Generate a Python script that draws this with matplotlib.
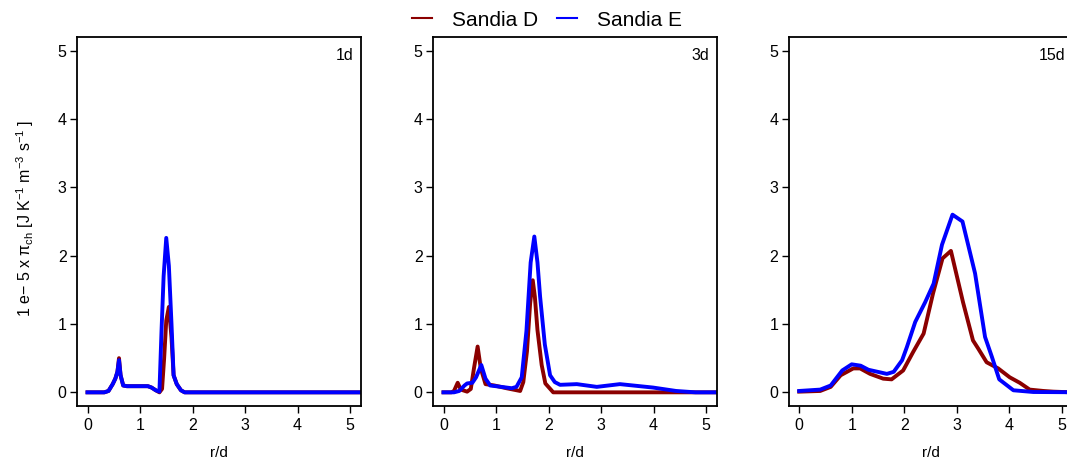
import matplotlib
matplotlib.use('Agg')
import matplotlib.pyplot as plt
from matplotlib.lines import Line2D

# Font setup: Helvetica-like look as in the R original
plt.rcParams['font.family'] = ['Liberation Sans', 'DejaVu Sans']
plt.rcParams['mathtext.fontset'] = 'custom'
plt.rcParams['mathtext.rm'] = 'Liberation Sans'
plt.rcParams['mathtext.it'] = 'Liberation Sans'
plt.rcParams['mathtext.bf'] = 'Liberation Sans:bold'

# Panel titles and series names
panel_labels = ['1d', '3d', '15d']
series_names = ['Sandia D', 'Sandia E']

# 1d
x_1d_D = [0, 0.32, 0.4, 0.48, 0.53, 0.57, 0.6, 0.63, 0.68, 0.75, 1.0, 1.15, 1.22, 1.3, 1.37,
          1.42, 1.46, 1.5, 1.55, 1.6, 1.64, 1.7, 1.78, 1.85, 5.5]
y_1d_D = [0, 0, 0.02, 0.12, 0.2, 0.3, 0.5, 0.25, 0.1, 0.09, 0.09, 0.09, 0.07, 0.03, 0.0,
          0.05, 0.5, 1.05, 1.25, 0.8, 0.25, 0.12, 0.03, 0, 0]
x_1d_E = [0, 0.32, 0.4, 0.48, 0.53, 0.57, 0.6, 0.63, 0.68, 0.75, 1.0, 1.15, 1.22, 1.3, 1.37,
          1.41, 1.45, 1.5, 1.55, 1.6, 1.64, 1.7, 1.78, 1.85, 5.5]
y_1d_E = [0, 0, 0.02, 0.12, 0.2, 0.3, 0.47, 0.25, 0.1, 0.09, 0.09, 0.09, 0.07, 0.03, 0.01,
          0.9, 1.7, 2.26, 1.85, 1.0, 0.25, 0.12, 0.03, 0, 0]

# 3d
x_3d_D = [0, 0.15, 0.2, 0.27, 0.33, 0.45, 0.52, 0.58, 0.65, 0.71, 0.8, 0.97, 1.2, 1.46, 1.52,
          1.59, 1.65, 1.7, 1.74, 1.79, 1.87, 1.94, 2.09, 5.5]
y_3d_D = [0, 0, 0.02, 0.14, 0.04, 0.01, 0.05, 0.35, 0.67, 0.35, 0.12, 0.1, 0.06, 0.02, 0.15,
          0.6, 1.3, 1.64, 1.4, 0.91, 0.4, 0.13, 0.0, 0]
x_3d_E = [0, 0.2, 0.3, 0.4, 0.45, 0.55, 0.62, 0.72, 0.8, 0.89, 1.1, 1.3, 1.39, 1.49, 1.58,
          1.66, 1.73, 1.79, 1.84, 1.93, 2.03, 2.12, 2.22, 2.54, 2.92, 3.36, 3.99, 4.43, 4.8, 5.5]
y_3d_E = [0, 0, 0.02, 0.1, 0.13, 0.14, 0.22, 0.4, 0.2, 0.1, 0.08, 0.06, 0.08, 0.22, 0.9,
          1.9, 2.28, 1.9, 1.4, 0.7, 0.25, 0.15, 0.11, 0.12, 0.08, 0.12, 0.07, 0.02, 0, 0]

# 15d
x_15d_D = [0, 0.4, 0.6, 0.79, 1.03, 1.16, 1.35, 1.6, 1.76, 1.98, 2.17, 2.37, 2.55, 2.73, 2.89,
           3.12, 3.31, 3.41, 3.57, 3.79, 4.01, 4.2, 4.39, 4.65, 4.84, 5.2, 5.5]
y_15d_D = [0.01, 0.02, 0.08, 0.25, 0.35, 0.35, 0.27, 0.2, 0.19, 0.32, 0.59, 0.86, 1.45, 1.96, 2.07,
           1.32, 0.76, 0.64, 0.44, 0.35, 0.22, 0.14, 0.04, 0.02, 0.01, 0, 0]
x_15d_E = [0, 0.4, 0.6, 0.82, 1.0, 1.17, 1.32, 1.67, 1.8, 1.96, 2.05, 2.21, 2.4, 2.56, 2.72,
           2.92, 3.11, 3.35, 3.54, 3.67, 3.81, 4.08, 4.46, 5.5]
y_15d_E = [0.02, 0.04, 0.1, 0.32, 0.41, 0.39, 0.33, 0.27, 0.3, 0.47, 0.66, 1.03, 1.32, 1.59, 2.16,
           2.6, 2.5, 1.74, 0.81, 0.52, 0.19, 0.03, 0.005, 0]

panels = [
    (x_1d_D, y_1d_D, x_1d_E, y_1d_E),
    (x_3d_D, y_3d_D, x_3d_E, y_3d_E),
    (x_15d_D, y_15d_D, x_15d_E, y_15d_E),
]
col_D = '#8B0000'
col_E = '#0000FF'

fig = plt.figure(figsize=(10.67, 4.59), dpi=100)
W, H = 1067, 459
lefts = [77, 433, 788.7]
ax_w = 283.5
ax_bottom, ax_top = 406, 37

for i, (xd, yd, xe, ye) in enumerate(panels):
    ax = fig.add_axes([lefts[i] / W, 1 - ax_bottom / H, ax_w / W, (ax_bottom - ax_top) / H])
    ax.plot(xd, yd, color=col_D, lw=2.8, solid_joinstyle='round')
    ax.plot(xe, ye, color=col_E, lw=2.8, solid_joinstyle='round')
    ax.set_xlim(-0.2, 5.2)
    ax.set_ylim(-0.2, 5.2)
    ax.set_xticks(range(6))
    ax.set_yticks(range(6))
    ax.tick_params(direction='out', length=5, width=1, labelsize=11.5, pad=2.5)
    ax.tick_params(axis='x', pad=4)
    for s in ax.spines.values():
        s.set_linewidth(1.3)
    ax.set_xlabel('r/d', fontsize=11, labelpad=9)
    ax.text(0.975, 0.95, panel_labels[i], transform=ax.transAxes,
            ha='right', va='center', fontsize=11.5)

fig.text(25 / W, 1 - 218 / H,
         r'1 e$-$ 5 x $\pi_{\mathrm{ch}}$ [J K$^{-1}$ m$^{-3}$ s$^{-1}$ ]',
         rotation=90, ha='center', va='center', fontsize=11.5)

handles = [Line2D([], [], color=col_D, lw=1.5), Line2D([], [], color=col_E, lw=1.5)]
fig.legend(handles, series_names, loc='center', bbox_to_anchor=(547 / W, 1 - 20 / H),
           ncol=2, frameon=False, fontsize=15, handlelength=0.95, handletextpad=0.95,
           columnspacing=0.9)

fig.savefig('out.png', dpi=100)
